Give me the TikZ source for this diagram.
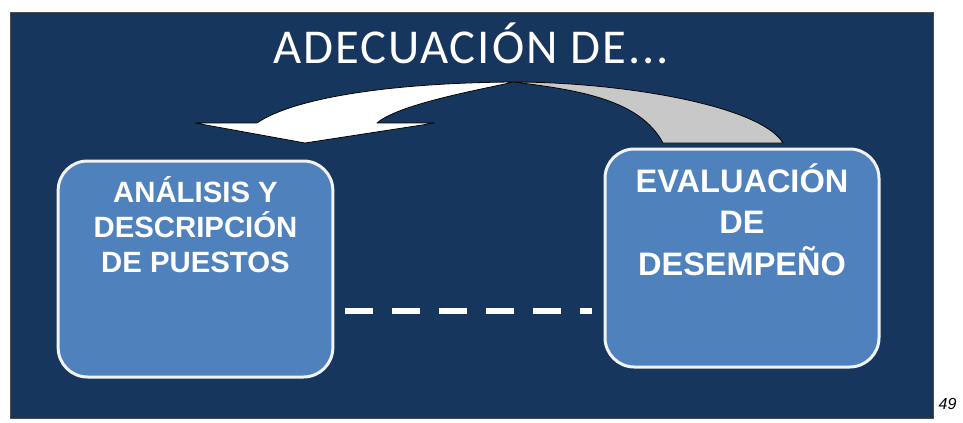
\documentclass[tikz,border=0pt]{standalone}
\usepackage{fontspec}
\setmainfont{Liberation Sans}
\newfontfamily\titlefont[LetterSpace=4]{Carlito}
\usepackage{tikz}
\usetikzlibrary{positioning}
\definecolor{navy}{HTML}{17365D}
\definecolor{boxblue}{HTML}{4F81BD}
\definecolor{backgray}{HTML}{C8C8C8}

\begin{document}
\begin{tikzpicture}[
        x=0.75pt, y=-0.75pt,
        card/.style={draw=white!90!gray, line width=2.25pt, fill=boxblue,
                     rounded corners=22pt},
        cardtxt/.style={text=white, align=center, inner sep=0pt,
                        font=\bfseries},
        band/.style={draw=black, line width=0.6pt, line join=round},
        dashline/.style={white, line width=4.5pt, dash pattern=on 21pt off 14.25pt},
    ]
        \useasboundingbox (0,0) rectangle (963,422);
        \draw[fill=navy, draw=black!70, line width=0.75pt] (10,12) rectangle (933,418);

        % Titulo
        \node[anchor=base, text=white, font=\titlefont\fontsize{36.5}{42}\selectfont]
            (title) at (471,63) {ADECUACIÓN DE...};

        % Flecha curva
        \fill[backgray, band] (513,82) .. controls (620,82) and (760,105) .. (783,143)
            -- (663,143) .. controls (640,100) and (580,90) .. (513,82) -- cycle;
        \fill[white, band] (257,123) .. controls (290,100) and (380,83) .. (513,82)
            .. controls (490,88) and (400,103) .. (377,123)
            -- (435,123) -- (305,143) -- (195,123) -- cycle;

        % Cajas
        \node[card, minimum width=206pt, minimum height=162pt] (lbox) at (195.5,269) {};
        \node[card, minimum width=205.5pt, minimum height=163.5pt] (rbox) at (742,258) {};

        \node[cardtxt, below=12.5pt of lbox.north, font=\bfseries\fontsize{22}{26.25}\selectfont]
            (ltxt) {ANÁLISIS Y\\DESCRIPCIÓN\\DE PUESTOS};
        \node[cardtxt, below=12pt of rbox.north, font=\bfseries\fontsize{24.4}{31}\selectfont]
            (rtxt) {EVALUACIÓN\\DE\\DESEMPEÑO};

        % Linea discontinua
        \coordinate (d1) at (345,311);
        \coordinate (d2) at (592,311);
        \draw[dashline] (d1) -- (d2);

        \node[font=\itshape\fontsize{12}{14}\selectfont, anchor=west] (pg) at (934,404) {49};
    \end{tikzpicture}
\end{document}
